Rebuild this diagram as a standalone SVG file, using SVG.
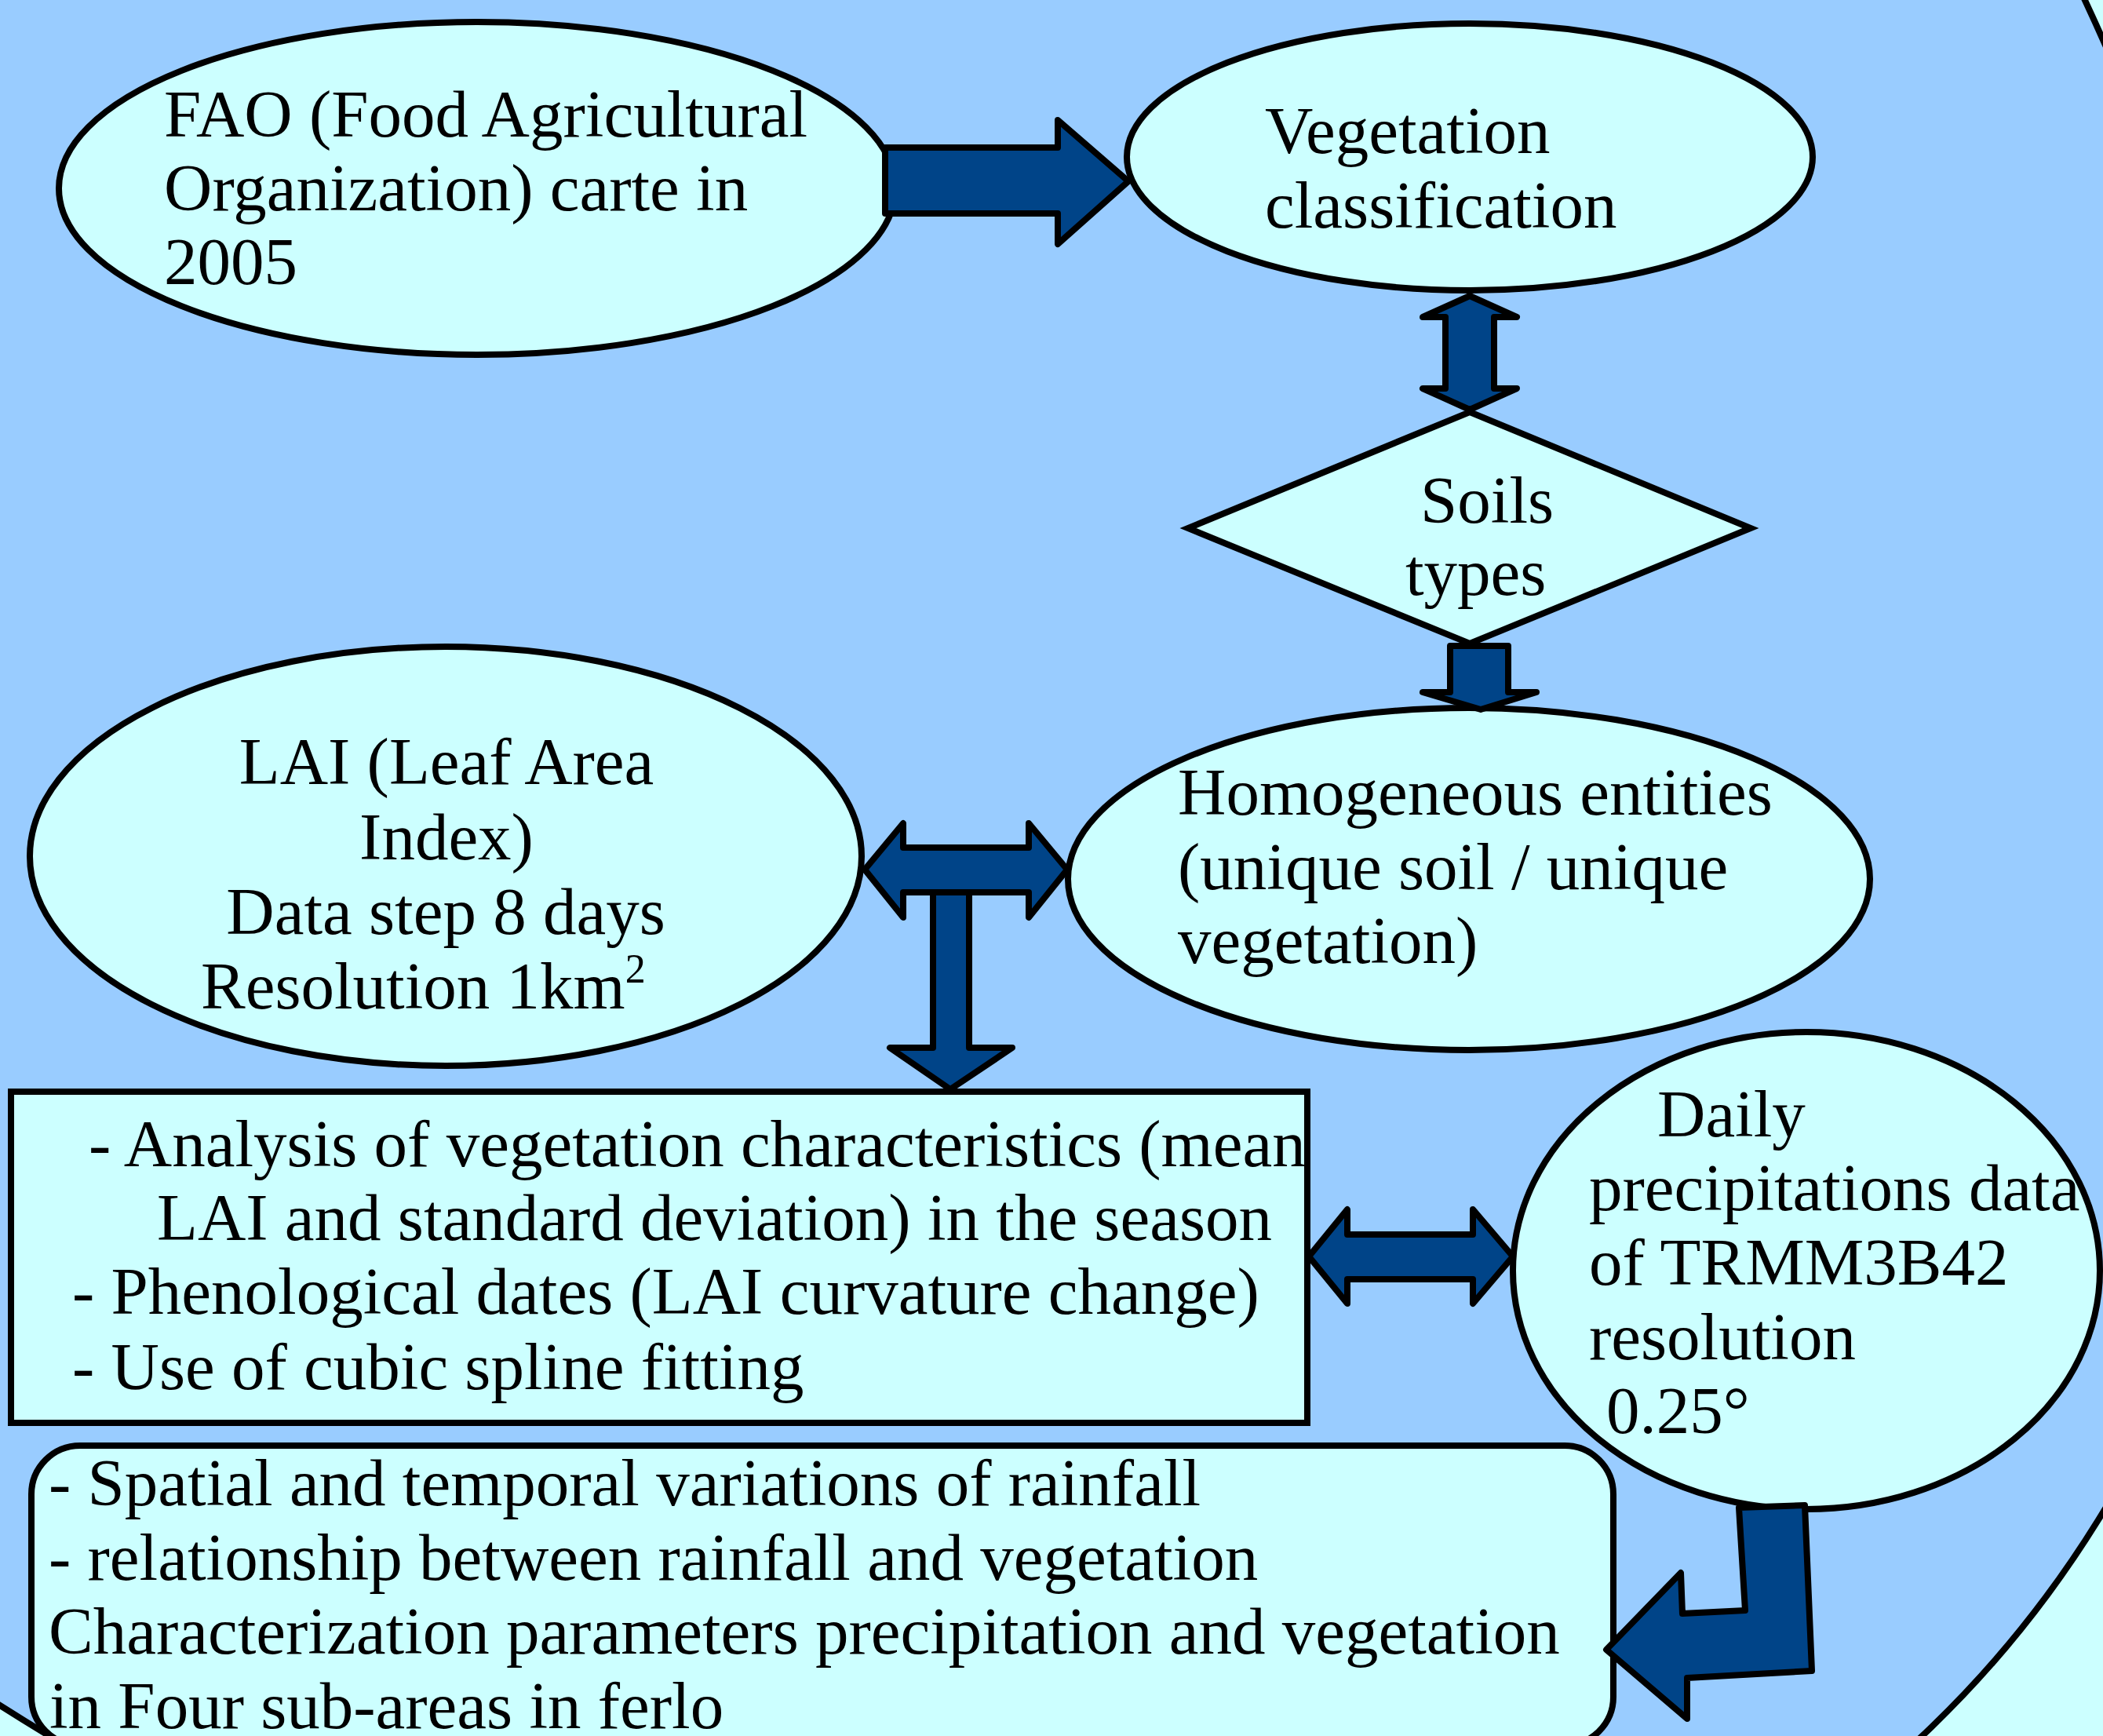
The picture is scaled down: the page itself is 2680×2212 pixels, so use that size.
<svg xmlns="http://www.w3.org/2000/svg" width="2680" height="2212" viewBox="0 0 2680 2212">
<style>
.t{font-family:"Liberation Serif","Times New Roman",serif;font-size:85px;fill:#000}
.n{fill:#CCFFFF;stroke:#000;stroke-width:8}
.a{fill:#004488;stroke:#000;stroke-width:8;stroke-linejoin:round}
</style>
<rect x="0" y="0" width="2680" height="2212" fill="#CCFFFF"/>
<ellipse id="frame" cx="713" cy="390" rx="2517" ry="1844" transform="rotate(46 713 390)" fill="#99CCFF" stroke="#000" stroke-width="8"/>
<g id="nodes">
<g id="fao">
<ellipse class="n" cx="608" cy="240" rx="533" ry="212"/>
<text class="t" x="209" y="174">FAO (Food Agricultural</text>
<text class="t" x="209" y="268">Organization) carte in</text>
<text class="t" x="209" y="362">2005</text>
</g>
<g id="vegetation">
<ellipse class="n" cx="1873" cy="200" rx="437" ry="170"/>
<text class="t" x="1612" y="195">Vegetation</text>
<text class="t" x="1612" y="290">classification</text>
</g>
<g id="soils">
<polygon class="n" points="1873,525 2231,673 1873,820 1514,673"/>
<text class="t" x="1810" y="666">Soils</text>
<text class="t" x="1791" y="758">types</text>
</g>
<g id="homogeneous">
<ellipse class="n" cx="1872" cy="1120" rx="511" ry="218"/>
<text class="t" x="1501" y="1038">Homogeneous entities</text>
<text class="t" x="1501" y="1133">(unique soil / unique</text>
<text class="t" x="1501" y="1227">vegetation)</text>
</g>
<g id="lai">
<ellipse class="n" cx="568" cy="1091" rx="530" ry="267"/>
<text class="t" x="569" y="999" text-anchor="middle">LAI (Leaf Area</text>
<text class="t" x="569" y="1095" text-anchor="middle">Index)</text>
<text class="t" x="568" y="1190" text-anchor="middle">Data step 8 days</text>
<text class="t" x="256" y="1285">Resolution 1km<tspan font-size="52" dy="-33">2</tspan></text>
</g>
<g id="analysis">
<rect class="n" x="14" y="1391" width="1652" height="422" stroke-width="9"/>
<text class="t" x="113" y="1486">- Analysis of vegetation characteristics (mean</text>
<text class="t" x="200" y="1580">LAI and standard deviation) in the season</text>
<text class="t" x="92" y="1674">- Phenological dates (LAI curvature change)</text>
<text class="t" x="92" y="1770">- Use of cubic spline fitting</text>
</g>
<g id="daily">
<ellipse class="n" cx="2302" cy="1619" rx="374" ry="304"/>
<text class="t" x="2112" y="1448">Daily</text>
<text class="t" x="2025" y="1542">precipitations data</text>
<text class="t" x="2025" y="1637">of TRMM3B42</text>
<text class="t" x="2025" y="1732">resolution</text>
<text class="t" x="2047" y="1826">0.25°</text>
</g>
<g id="results">
<rect class="n" x="40" y="1842" width="2016" height="382" rx="62" ry="62" stroke-width="9"/>
<text class="t" x="62" y="1918">- Spatial and temporal variations of rainfall</text>
<text class="t" x="62" y="2013">- relationship between rainfall and vegetation</text>
<text class="t" x="62" y="2107">Characterization parameters precipitation and vegetation</text>
<text class="t" x="63" y="2202">in Four sub-areas in ferlo</text>
</g>
</g>
<g id="connectors">
<polygon class="a" points="1128,188 1348,188 1348,153 1438,231 1348,311 1348,272 1128,272"/>
<polygon class="a" points="1873,377 1933,404 1904,404 1904,495 1933,495 1873,522 1813,495 1842,495 1842,404 1813,404"/>
<polygon class="a" points="1848,823 1922,823 1922,882 1958,882 1887,904 1813,882 1848,882"/>
<polygon class="a" points="1102,1108 1151,1049 1151,1080 1311,1080 1311,1049 1360,1108 1311,1169 1311,1137 1151,1137 1151,1169"/>
<polygon class="a" points="1189,1137 1235,1137 1235,1335 1290,1335 1211,1388 1134,1335 1189,1335"/>
<polygon class="a" points="1668,1601 1717,1541 1717,1573 1877,1573 1877,1541 1928,1601 1877,1661 1877,1630 1717,1630 1717,1661"/>
<polygon class="a" points="2216,1921 2300,1918 2309,2129 2150,2138 2150,2190 2047,2102 2142,2004 2144,2056 2224,2052"/>
</g>
</svg>
